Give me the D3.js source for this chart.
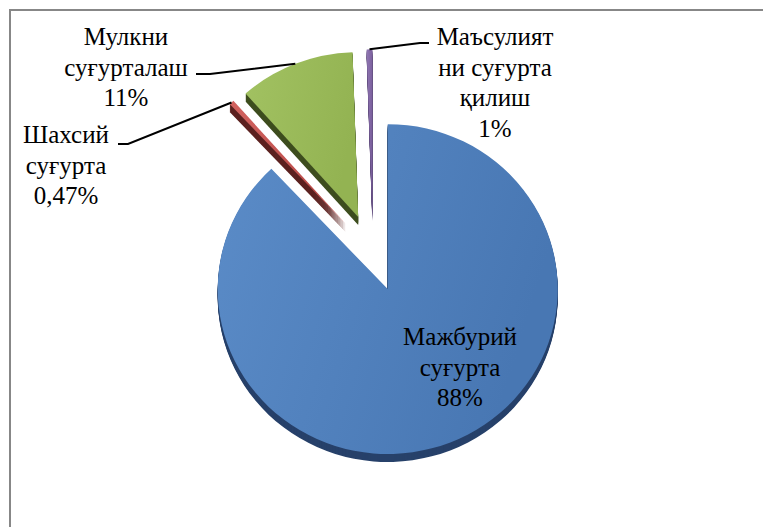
<!DOCTYPE html>
<html>
<head>
<meta charset="utf-8">
<script src="https://cdn.jsdelivr.net/npm/d3@7"></script>
<style>
  body { margin: 0; background: #fff; }
  text { font-family: "Liberation Serif", "DejaVu Serif", serif; }
</style>
</head>
<body>
<div id="chart"></div>
<script>
// data (the thin purple slice is about half a percent wide)
var categories = ["Мажбурий суғурта", "Шахсий суғурта", "Мулкни суғурталаш", "Маъсулиятни суғурта қилиш"];
var values = [88, 0.47, 11, 0.53];
var pctLabels = ["88%", "0,47%", "11%", "1%"];
var labelLines = [
  ["Мажбурий", "суғурта"],
  ["Шахсий", "суғурта"],
  ["Мулкни", "суғурталаш"],
  ["Маъсулият", "ни суғурта", "қилиш"]
];

var width = 763, height = 527;
var cx = 373, cy = 253, r = 170, k = 0.97;
var explode = 40, depth = 8;

var topColors = [["#5b8cc8", "#4877b3"], ["#d2625f", "#b94a47"], ["#a2c262", "#93b352"], ["#9077b3", "#7a5e9c"]];
var sideColors = ["#27416a", "#5c2220", "#3e4e1f", "#5a4678"];

// label layout (centre x, first baseline) and leader stubs
var labelPos = [[460, 345], [66, 143], [126, 45], [495, 45]];
var leaderStub = [null, [[128, 144], [118, 144]], [[210, 74], [196, 74]], [[420, 43], [429, 43]]];

var svg = d3.select("#chart").append("svg")
    .attr("width", width)
    .attr("height", height);

var defs = svg.append("defs");
topColors.forEach(function(c, i) {
  var g = defs.append("linearGradient").attr("id", "grad" + i)
      .attr("x1", 0).attr("x2", 1).attr("y1", 0).attr("y2", 0.3);
  g.append("stop").attr("offset", "0%").attr("stop-color", c[0]);
  g.append("stop").attr("offset", "100%").attr("stop-color", c[1]);
});

// chart area border (right and bottom run off the page)
svg.append("path")
    .attr("d", "M10," + (height + 5) + "V10H" + (width + 5))
    .attr("fill", "none")
    .attr("stroke", "#878787")
    .attr("stroke-width", 2);

var pie = d3.pie().sort(null).value(function(d) { return d; });
var arcs = pie(values);
var arc = d3.arc().innerRadius(0).outerRadius(r);
var edgeArc = d3.arc().innerRadius(r).outerRadius(r);

function offset(d) {
  var a = (d.startAngle + d.endAngle) / 2;
  return [explode * Math.sin(a), -explode * Math.cos(a)];
}

// extruded sides
for (var i = depth; i >= 1; i--) {
  svg.append("g")
      .attr("transform", "translate(" + cx + "," + (cy + i) + ") scale(1," + k + ")")
    .selectAll("path")
    .data(arcs)
    .join("path")
      .attr("transform", function(d) { return "translate(" + offset(d) + ")"; })
      .attr("d", arc)
      .attr("fill", function(d, j) { return sideColors[j]; });
}

// top faces
svg.append("g")
    .attr("transform", "translate(" + cx + "," + cy + ") scale(1," + k + ")")
  .selectAll("path")
  .data(arcs)
  .join("path")
    .attr("transform", function(d) { return "translate(" + offset(d) + ")"; })
    .attr("d", arc)
    .attr("fill", function(d, j) { return "url(#grad" + j + ")"; });

// leader lines
arcs.forEach(function(d, j) {
  if (!leaderStub[j]) return;
  var o = offset(d);
  var c = edgeArc.centroid(d);
  var p = [cx + c[0] + o[0], cy + (c[1] + o[1]) * k];
  var pts = [p].concat(leaderStub[j]);
  svg.append("path")
      .attr("d", d3.line()(pts))
      .attr("fill", "none")
      .attr("stroke", "#000")
      .attr("stroke-width", 2);
});

// labels
var lineH = 30.5;
arcs.forEach(function(d, j) {
  var lines = labelLines[j].concat([pctLabels[j]]);
  var t = svg.append("text")
      .attr("text-anchor", "middle")
      .attr("font-size", 25)
      .attr("fill", "#000");
  lines.forEach(function(s, n) {
    t.append("tspan")
        .attr("x", labelPos[j][0])
        .attr("y", labelPos[j][1] + n * lineH)
        .text(s);
  });
});
</script>
</body>
</html>
